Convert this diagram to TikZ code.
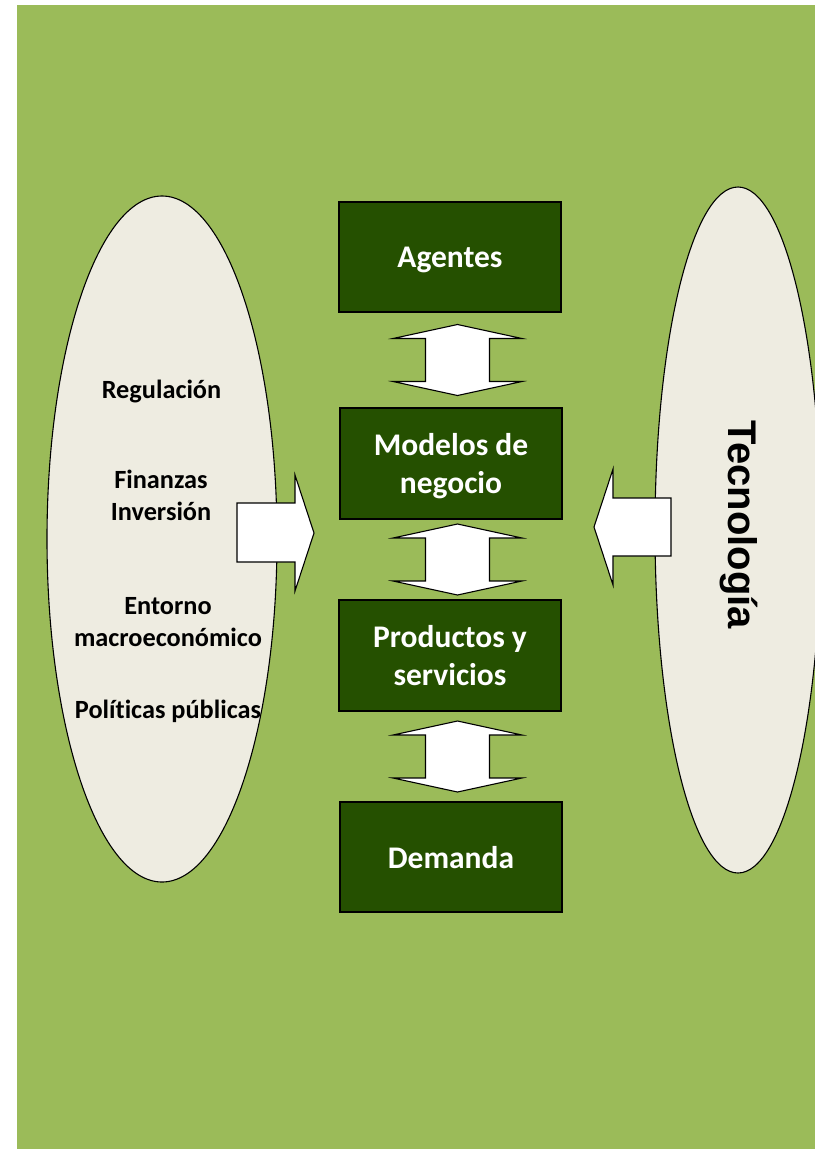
\documentclass[tikz,border=0pt]{standalone}
\usepackage{fontspec}
\setmainfont{Carlito}[Ligatures={NoCommon}]
\newfontfamily\arialfont{Liberation Sans}
\usetikzlibrary{positioning,shapes.geometric,calc}
\definecolor{fondo}{RGB}{155,187,89}
\definecolor{crema}{RGB}{238,236,225}
\definecolor{verdeosc}{RGB}{37,80,0}
\begin{document}
\begin{tikzpicture}[
    x=1bp, y=-1bp,
    bloque/.style={draw, line width=1.1bp, fill=verdeosc, text=white, minimum width=222bp, minimum height=110bp, inner sep=0pt, text depth=0pt, align=center, font=\bfseries\fontsize{31.5bp}{38bp}\selectfont},
    elipse/.style={draw, ellipse, line width=1.1bp, fill=crema, inner sep=0pt},
    factor/.style={align=center, font=\bfseries\fontsize{26.3bp}{32bp}\selectfont},
    flecha/.style={draw, line width=1.1bp, fill=white, line join=miter}
]
\clip (0,0) rectangle (815,1149);
\fill[fondo] (17,5) rectangle (815,1149);

% Elipses laterales
\node[elipse, minimum width=230bp, minimum height=686bp] (entorno) at (162,539) {};
\node[elipse, minimum width=166bp, minimum height=686bp] (tecno) at (738,530) {};

\node[factor] (reg) at (161.5,391) {Regulación};
\node[factor] (fin) at (161,495) {Finanzas\\Inversión};
\node[factor] (mac) at (168,622) {Entorno\\macroeconómico};
\node[factor] (pol) at (168,711) {Políticas públicas};
\node[rotate=-90, font=\arialfont\bfseries\fontsize{40bp}{48bp}\selectfont] (tec) at (739,525) {Tecnología};

% Cadena central
\node[bloque] (ag) at (450,257) {Agentes};
\node[bloque, minimum height=111bp] (mo) at (451,463.5) {Modelos de\\negocio};
\node[bloque, minimum height=111bp] (pr) at (450,655.5) {Productos y\\servicios};
\node[bloque] (de) at (451,857) {Demanda};

\foreach \a/\b in {ag/mo, mo/pr, pr/de}
  \draw[flecha, shift={($(\a.south)!0.5!(\b.north)+(7,0)$)}]
    (0,-35.5) -- (64.5,-21.5) -- (32,-21.5) -- (32,21.5) -- (64.5,21.5) -- (0,35.5)
    -- (-64.5,21.5) -- (-32,21.5) -- (-32,-21.5) -- (-64.5,-21.5) -- cycle;

% Flechas de los lados
\draw[flecha] (237,503) -- (295,503) -- (295,475) -- (314,533) -- (295,591) -- (295,562) -- (237,562) -- cycle;
\draw[flecha] (671,498) -- (613,498) -- (613,469) -- (594,527) -- (613,585) -- (613,556) -- (671,556) -- cycle;
\end{tikzpicture}
\end{document}
